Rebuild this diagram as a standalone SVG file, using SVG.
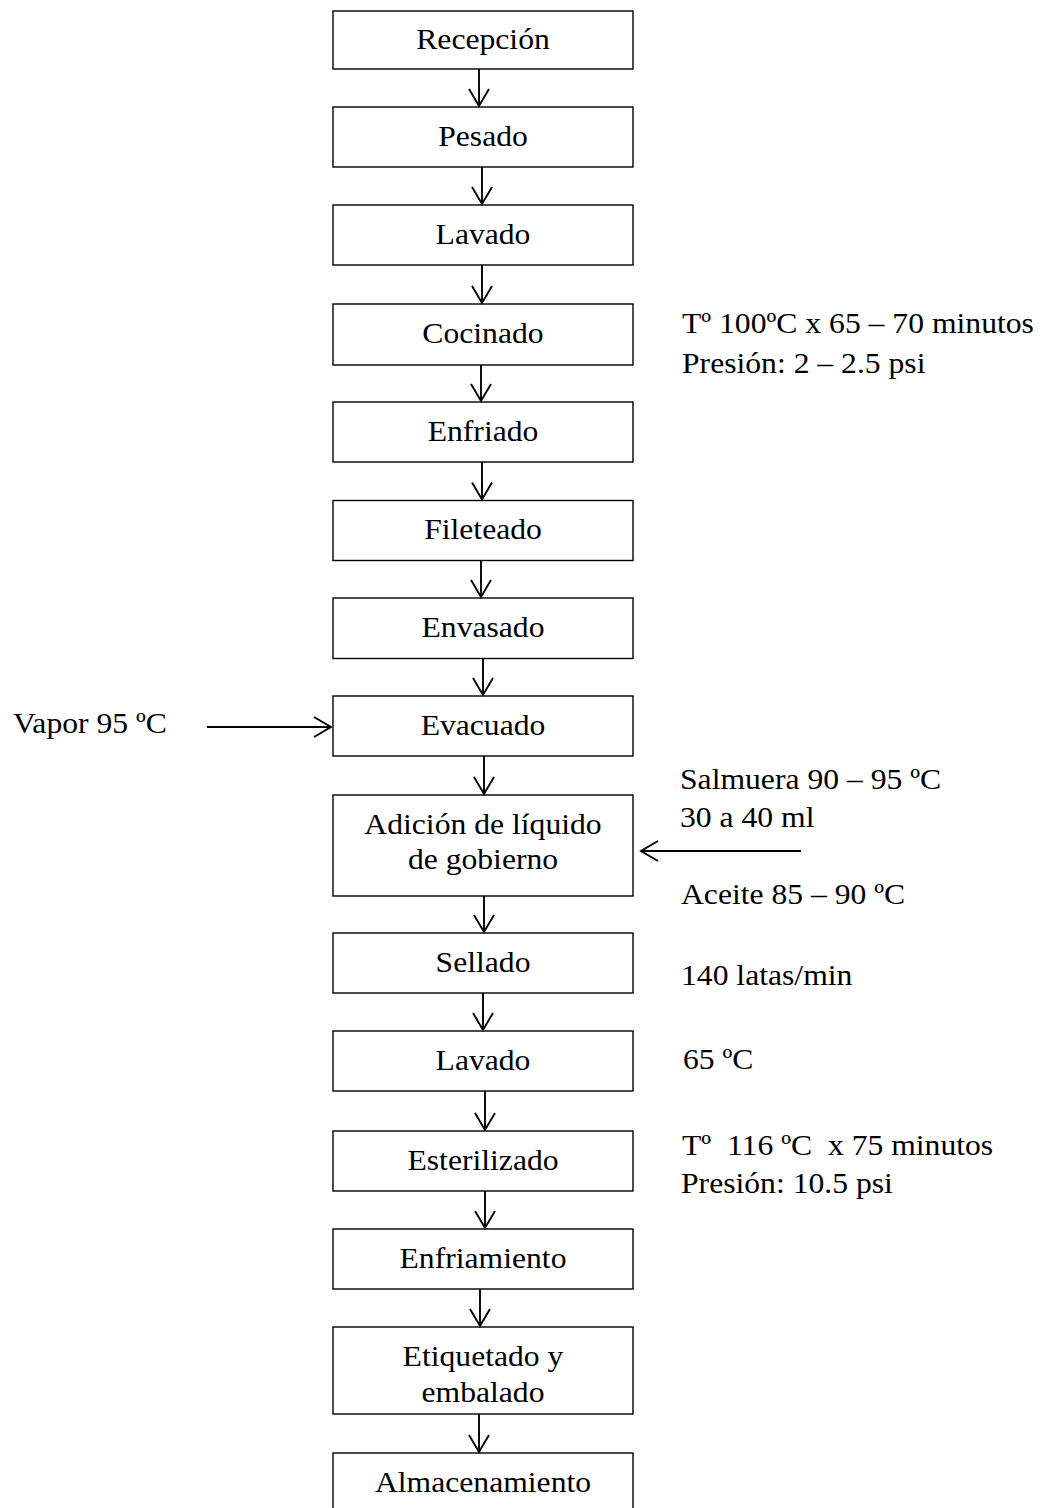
<svg xmlns="http://www.w3.org/2000/svg" width="1046" height="1508" viewBox="0 0 1046 1508">
<style>
.box{fill:#fff;stroke:#000;stroke-width:1.4}
.t{font-family:"Liberation Serif","Times New Roman",serif;font-size:30px;fill:#000}
.c{text-anchor:middle}
.conn line{stroke:#000;stroke-width:1.9;fill:none}
</style>
<defs>
<marker id="ah" markerUnits="userSpaceOnUse" viewBox="-19 -12 21 24" refX="0" refY="0" markerWidth="21" markerHeight="24" orient="auto" overflow="visible">
<polyline points="-17,-10 0,0 -17,10" fill="none" stroke="#000" stroke-width="1.9"/>
</marker>
</defs>
<rect width="1046" height="1508" fill="#fff"/>
<g id="n1"><rect class="box" x="333" y="11" width="300" height="58"/><text class="t c" transform="matrix(1.055 0 0 1 483 48.5)">Recepción</text></g>
<g id="n2"><rect class="box" x="333" y="107" width="300" height="60"/><text class="t c" transform="matrix(1.055 0 0 1 483 145.5)">Pesado</text></g>
<g id="n3"><rect class="box" x="333" y="205" width="300" height="60"/><text class="t c" transform="matrix(1.055 0 0 1 483 243.5)">Lavado</text></g>
<g id="n4"><rect class="box" x="333" y="304" width="300" height="61"/><text class="t c" transform="matrix(1.055 0 0 1 483 343)">Cocinado</text></g>
<g id="n5"><rect class="box" x="333" y="402" width="300" height="60"/><text class="t c" transform="matrix(1.055 0 0 1 483 440.5)">Enfriado</text></g>
<g id="n6"><rect class="box" x="333" y="500.5" width="300" height="60"/><text class="t c" transform="matrix(1.055 0 0 1 483 539)">Fileteado</text></g>
<g id="n7"><rect class="box" x="333" y="598" width="300" height="60.5"/><text class="t c" transform="matrix(1.055 0 0 1 483 637)">Envasado</text></g>
<g id="n8"><rect class="box" x="333" y="696" width="300" height="60"/><text class="t c" transform="matrix(1.055 0 0 1 483 734.5)">Evacuado</text></g>
<g id="n9"><rect class="box" x="333" y="795" width="300" height="101"/><text class="t c" transform="matrix(1.055 0 0 1 483 833.5)">Adición de líquido</text><text class="t c" transform="matrix(1.055 0 0 1 483 868.5)">de gobierno</text></g>
<g id="n10"><rect class="box" x="333" y="933" width="300" height="60"/><text class="t c" transform="matrix(1.055 0 0 1 483 971.5)">Sellado</text></g>
<g id="n11"><rect class="box" x="333" y="1031" width="300" height="60"/><text class="t c" transform="matrix(1.055 0 0 1 483 1069.5)">Lavado</text></g>
<g id="n12"><rect class="box" x="333" y="1131" width="300" height="60"/><text class="t c" transform="matrix(1.055 0 0 1 483 1169.5)">Esterilizado</text></g>
<g id="n13"><rect class="box" x="333" y="1229" width="300" height="60"/><text class="t c" transform="matrix(1.055 0 0 1 483 1267.5)">Enfriamiento</text></g>
<g id="n14"><rect class="box" x="333" y="1327" width="300" height="87"/><text class="t c" transform="matrix(1.055 0 0 1 483 1366)">Etiquetado y</text><text class="t c" transform="matrix(1.055 0 0 1 483 1401.5)">embalado</text></g>
<g id="n15"><rect class="box" x="333" y="1453" width="300" height="60"/><text class="t c" transform="matrix(1.055 0 0 1 483 1492)">Almacenamiento</text></g>
<g id="notes">
<text class="t" transform="matrix(1.055 0 0 1 682 333)">Tº 100ºC x 65 – 70 minutos</text>
<text class="t" transform="matrix(1.055 0 0 1 682 373)">Presión: 2 – 2.5 psi</text>
<text class="t" transform="matrix(1.055 0 0 1 13 733)">Vapor 95 ºC</text>
<text class="t" transform="matrix(1.055 0 0 1 680 789)">Salmuera 90 – 95 ºC</text>
<text class="t" transform="matrix(1.055 0 0 1 680 827)">30 a 40 ml</text>
<text class="t" transform="matrix(1.055 0 0 1 681 904)">Aceite 85 – 90 ºC</text>
<text class="t" transform="matrix(1.055 0 0 1 681 985)">140 latas/min</text>
<text class="t" transform="matrix(1.055 0 0 1 683 1069)">65 ºC</text>
<text class="t" xml:space="preserve" transform="matrix(1.055 0 0 1 682 1155)">Tº  116 ºC  x 75 minutos</text>
<text class="t" transform="matrix(1.055 0 0 1 681 1193)">Presión: 10.5 psi</text>
</g>
<g id="connectors" class="conn">
<line x1="479" y1="69" x2="479" y2="106" marker-end="url(#ah)"/>
<line x1="482" y1="167" x2="482" y2="204" marker-end="url(#ah)"/>
<line x1="482" y1="265" x2="482" y2="303" marker-end="url(#ah)"/>
<line x1="481" y1="365" x2="481" y2="401" marker-end="url(#ah)"/>
<line x1="482" y1="462" x2="482" y2="499.5" marker-end="url(#ah)"/>
<line x1="481" y1="560.5" x2="481" y2="597" marker-end="url(#ah)"/>
<line x1="483" y1="658.5" x2="483" y2="695" marker-end="url(#ah)"/>
<line x1="484" y1="756" x2="484" y2="794" marker-end="url(#ah)"/>
<line x1="484" y1="896" x2="484" y2="932" marker-end="url(#ah)"/>
<line x1="483" y1="993" x2="483" y2="1030" marker-end="url(#ah)"/>
<line x1="485" y1="1091" x2="485" y2="1130" marker-end="url(#ah)"/>
<line x1="485" y1="1191" x2="485" y2="1228" marker-end="url(#ah)"/>
<line x1="480" y1="1289" x2="480" y2="1326" marker-end="url(#ah)"/>
<line x1="479" y1="1414" x2="479" y2="1452" marker-end="url(#ah)"/>
<line x1="207" y1="727" x2="331" y2="727" marker-end="url(#ah)"/>
<line x1="801" y1="851" x2="641" y2="851" marker-end="url(#ah)"/>
</g>
</svg>
